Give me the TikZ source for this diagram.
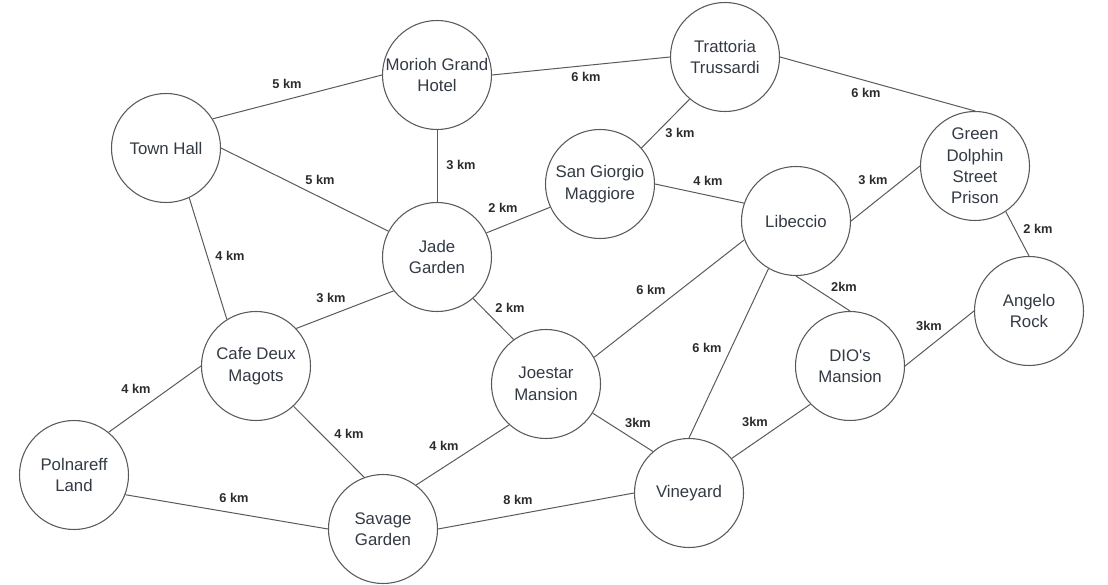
\documentclass[tikz,border=0pt]{standalone}
\usepackage{fontspec}
\setmainfont{Liberation Sans}
\definecolor{txt}{HTML}{333A44}
\definecolor{lbltxt}{HTML}{2B2B2B}
\definecolor{edge}{HTML}{5A5A5A}
\tikzset{
  place/.style={circle, draw=edge, line width=0.8pt, fill=white, inner sep=0pt,
    minimum size=81.75pt, align=center, text=txt,
    font=\fontsize{12.6}{16.1}\selectfont},
  road/.style={draw=edge, line width=0.75pt},
  dist/.style={text=lbltxt, font=\bfseries\fontsize{9.6}{11}\selectfont, inner sep=1pt}
}
\begin{document}
\begin{tikzpicture}[x=0.75pt, y=-0.75pt]
\useasboundingbox (0,0) rectangle (1108,585);
% places
\node[place] (th)  at (166,148) {Town Hall};
\node[place] (mgh) at (437,75)  {Morioh Grand\\Hotel};
\node[place] (tt)  at (725,57)  {Trattoria\\Trussardi};
\node[place] (gd)  at (975,166) {Green\\Dolphin\\Street\\Prison};
\node[place] (sg)  at (600,184) {San Giorgio\\Maggiore};
\node[place] (lib) at (796,221) {Libeccio};
\node[place] (jg)  at (437,257) {Jade\\Garden};
\node[place] (ar)  at (1029,311) {Angelo\\Rock};
\node[place] (cdm) at (256,366) {Cafe Deux\\Magots};
\node[place] (jm)  at (546,384) {Joestar\\Mansion};
\node[place] (dio) at (850,366) {DIO\textquotesingle s\\Mansion};
\node[place] (pl)  at (74,475)  {Polnareff\\Land};
\node[place] (sav) at (383,529) {Savage\\Garden};
\node[place] (vin) at (689,493) {Vineyard};
% roads
\draw[road] (th.32) -- (mgh.west);
\draw[road] (th.east) -- (jg.152);
\draw[road] (th.-65) -- (cdm.122);
\draw[road] (mgh.east) -- (tt.west);
\draw[road] (mgh.south) -- (jg.north);
\draw[road] (tt.230) -- (sg.41);
\draw[road] (tt.east) -- (gd.north);
\draw[road] (sg.205) -- (jg.26);
\draw[road] (sg.east) -- (lib.161);
\draw[road] (lib.east) -- (gd.west);
\draw[road] (gd.-56) -- (ar.north);
\draw[road] (jg.218) -- (cdm.43);
\draw[road] (jg.-49) -- (jm.126);
\draw[road] (lib.200) -- (jm.29);
\draw[road] (lib.240) -- (vin.north);
\draw[road] (lib.south) -- (dio.north);
\draw[road] (dio.east) -- (ar.west);
\draw[road] (dio.224) -- (vin.39);
\draw[road] (jm.-32) -- (vin.131);
\draw[road] (cdm.west) -- (pl.51);
\draw[road] (cdm.-47) -- (sav.110);
\draw[road] (pl.-21) -- (sav.west);
\draw[road] (sav.53) -- (jm.228);
\draw[road] (sav.east) -- (vin.west);
% distances
\node[dist] (d1)  at (287,84)  {5 km};
\node[dist] (d2)  at (320,180) {5 km};
\node[dist] (d3)  at (230,256) {4 km};
\node[dist] (d4)  at (586,77)  {6 km};
\node[dist] (d5)  at (461,165) {3 km};
\node[dist] (d6)  at (680,133) {3 km};
\node[dist] (d7)  at (866,93)  {6 km};
\node[dist] (d8)  at (503,208) {2 km};
\node[dist] (d9)  at (708,181) {4 km};
\node[dist] (d10) at (873,180) {3 km};
\node[dist] (d11) at (1038,229) {2 km};
\node[dist] (d12) at (331,298) {3 km};
\node[dist] (d13) at (510,308) {2 km};
\node[dist] (d14) at (651,290) {6 km};
\node[dist] (d15) at (707,348) {6 km};
\node[dist] (d16) at (844,287) {2km};
\node[dist] (d17) at (929,326) {3km};
\node[dist] (d18) at (755,422) {3km};
\node[dist] (d19) at (638,423) {3km};
\node[dist] (d20) at (136,389) {4 km};
\node[dist] (d21) at (349,434) {4 km};
\node[dist] (d22) at (234,498) {6 km};
\node[dist] (d23) at (444,446) {4 km};
\node[dist] (d24) at (518,500) {8 km};
\end{tikzpicture}
\end{document}
